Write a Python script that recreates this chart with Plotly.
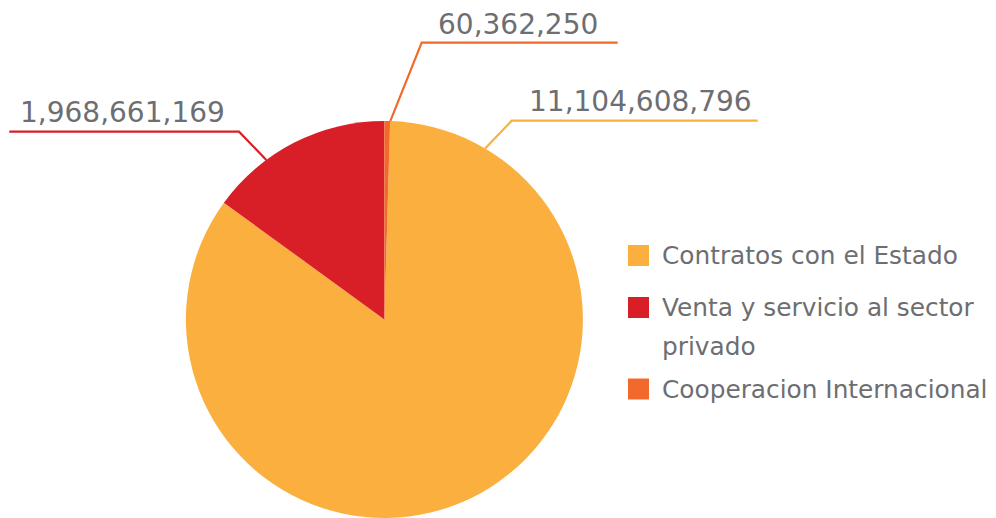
import math
import textwrap
import plotly.graph_objects as go

# ---- data ----
categories = ["Contratos con el Estado", "Venta y servicio al sector privado", "Cooperacion Internacional"]
values = [11104608796, 1968661169, 60362250]
colors = ["#FBAF3F", "#D81F27", "#F26A2B"]

# ---- layout constants (page pixels) ----
PAGE_W, PAGE_H = 996, 518
OFF = 8  # default page body margin
W, H = PAGE_W - OFF, PAGE_H - OFF
R = 198.5
CX = 384.4
CY = PAGE_H - R
TEXT_GRAY = "#6D6E71"
FONT = "DejaVu Sans"

# leader-line anchors on the pie edge (deg clockwise from 12 o'clock), elbows, line ends, label positions
anchor_deg = [30.5, -36.5, 1.7]
elbow = [(511.7, 120.7), (239.0, 131.7), (421.7, 42.7)]
line_end_x = [757.7, 9.3, 617.7]
label_left = [527.0, 18.0, 436.0]
label_mid_y = [101.0, 112.5, 25.0]

# legend
legend_sq_x = (628, 649)
legend_sq_top = [245, 297, 378.5]
legend_text_x = 660
legend_font = 24.8
legend_line_gap = 38.5


def fx(x):
    return (x - OFF) / W


def fy(y):
    return 1 - (y - OFF) / H


total = sum(values)
rotation = 360.0 * values[2] / total

fig = go.Figure(
    go.Pie(
        labels=categories,
        values=values,
        marker=dict(colors=colors, line=dict(width=0)),
        sort=False,
        direction="clockwise",
        rotation=rotation,
        textinfo="none",
        hoverinfo="label+value+percent",
        showlegend=False,
        domain=dict(x=[fx(CX - R), fx(CX + R)], y=[0, 2 * R / H]),
    )
)

shapes = []
annotations = []
for i, v in enumerate(values):
    a = math.radians(anchor_deg[i])
    ax = CX + R * math.sin(a)
    ay = CY - R * math.cos(a)
    ex, ey = elbow[i]
    path = "M {} {} L {} {} L {} {}".format(fx(ax), fy(ay), fx(ex), fy(ey), fx(line_end_x[i]), fy(ey))
    shapes.append(dict(type="path", path=path, xref="paper", yref="paper",
                       line=dict(color=colors[i], width=2.2)))
    annotations.append(dict(text=f"{v:,}", x=fx(label_left[i]), y=fy(label_mid_y[i]),
                            xref="paper", yref="paper", xanchor="left", yanchor="middle",
                            showarrow=False, font=dict(family=FONT, size=28, color=TEXT_GRAY)))

for i, cat in enumerate(categories):
    top = legend_sq_top[i]
    shapes.append(dict(type="rect", xref="paper", yref="paper",
                       x0=fx(legend_sq_x[0]), x1=fx(legend_sq_x[1]),
                       y0=fy(top), y1=fy(top + 21), fillcolor=colors[i], line=dict(width=0)))
    for j, line in enumerate(textwrap.wrap(cat, width=26)):
        baseline = top + 19.5 + j * legend_line_gap
        annotations.append(dict(text=line, x=fx(legend_text_x), y=fy(baseline - 8.7),
                                xref="paper", yref="paper", xanchor="left", yanchor="middle",
                                showarrow=False,
                                font=dict(family=FONT, size=legend_font, color=TEXT_GRAY)))

fig.update_layout(
    width=W, height=H,
    margin=dict(l=0, r=0, t=0, b=0),
    paper_bgcolor="white", plot_bgcolor="white",
    shapes=shapes, annotations=annotations,
    showlegend=False,
)

fig.write_html("out.html")
